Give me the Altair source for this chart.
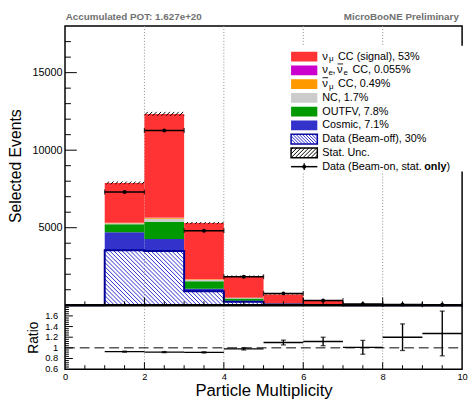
import math
import altair as alt
import pandas as pd

# ---------------- data ----------------
bin_lo = [0, 1, 2, 3, 4, 5, 6, 7, 8, 9]
bin_hi = [1, 2, 3, 4, 5, 6, 7, 8, 9, 10]

beam_off = [0, 3550, 3500, 900, 230, 50, 15, 5, 3, 2]
cosmic = [0, 1150, 780, 170, 60, 15, 5, 2, 1, 1]
outfv = [0, 520, 1100, 470, 150, 40, 12, 4, 2, 1]
nc = [0, 75, 200, 110, 40, 15, 5, 2, 1, 0]
numubar_cc = [0, 30, 70, 25, 10, 3, 2, 1, 0, 0]
nue_cc = [0, 3, 5, 3, 1, 0, 0, 0, 0, 0]
signal = [0, 2562, 6685, 3622, 1389, 573, 233, 66, 38, 20]
stat_unc = [0, 90, 130, 70, 40, 20, 12, 6, 5, 4]

data_bins = [1, 2, 3, 4, 5, 6, 7, 8, 9]
data_on = [7300, 11270, 4810, 1840, 765, 305, 81, 54, 30]
ratio = [0.928, 0.92, 0.915, 0.98, 1.10, 1.12, 1.01, 1.20, 1.27]
ratio_err = [0.01, 0.01, 0.012, 0.02, 0.045, 0.08, 0.13, 0.25, 0.42]

stack_names = ["Cosmic", "OUTFV", "NC", "numubar CC", "nue CC", "numu CC (signal)"]
stack_colors = ["#3333cc", "#009900", "#cccccc", "#ff9900", "#cc00cc", "#ff3333"]

legend_labels = ["CC (signal), 53%", "CC, 0.055%", "CC, 0.49%", "NC, 1.7%",
                 "OUTFV, 7.8%", "Cosmic, 7.1%", "Data (Beam-off), 30%",
                 "Stat. Unc.", "Data (Beam-on, stat. "]
legend_colors = ["#ff3333", "#cc00cc", "#ff9900", "#cccccc", "#009900", "#3333cc"]

y_major = [5000, 10000, 15000]
x_major = [0, 2, 4, 6, 8, 10]
r_major = [0.6, 0.8, 1.0, 1.2, 1.4, 1.6]
r_labels = ["0.6", "0.8", "1", "1.2", "1.4", "1.6"]
grid_x = [2, 4, 6, 8]

# ---------------- layout ----------------
W, H1, H2 = 404, 284, 65
H = H1 + H2
YMAX = 18000
SX = W / 10.0
SY = H1 / YMAX
FONT = "Liberation Sans"

xs = alt.Scale(domain=[0, 10], nice=False, zero=False)
ys = alt.Scale(domain=[0, YMAX], range=[H1, 0], nice=False, zero=False)
rs = alt.Scale(domain=[0.6, 1.8], range=[H, H1], nice=False, zero=False)

BLUE_HATCH = "#2b2bd0"
NAVY = "#000099"
GRID = "#8a8a8a"


def hatch(x0, x1, y0, y1, s, kind):
    """Hatch segments inside a rectangle given in pixel space (y up)."""
    segs = []
    if kind == "back":  # x + y = c  (looks like '\')
        c = math.ceil((x0 + y0) / s) * s
        while c < x1 + y1:
            lo = max(x0, c - y1)
            hi = min(x1, c - y0)
            if hi - lo > 1e-6:
                segs.append((lo, c - lo, hi, c - hi))
            c += s
    else:  # y - x = c  (looks like '/')
        c = math.ceil((y0 - x1) / s) * s
        while c < y1 - x0:
            lo = max(x0, y0 - c)
            hi = min(x1, y1 - c)
            if hi - lo > 1e-6:
                segs.append((lo, lo + c, hi, hi + c))
            c += s
    return segs


def X(f):
    return alt.X(f, scale=xs)


def Y(f, sc):
    return alt.Y(f, scale=sc, axis=None)


def PX(f):
    return alt.X(f, scale=None, axis=None)


def PY(f):
    return alt.Y(f, scale=None, axis=None)


# grid lines through both panels
grid = alt.Chart(pd.DataFrame({"g": grid_x})).mark_rule(
    color=GRID, strokeWidth=1, strokeDash=[1, 2]).encode(
    x=X("g:Q"), y=alt.value(0), y2=alt.value(H))

# ---------------- main panel ----------------
stack_rows = []
totals = []
for i in range(10):
    base = beam_off[i]
    for name, vals in zip(stack_names, [cosmic, outfv, nc, numubar_cc, nue_cc, signal]):
        if vals[i] > 0:
            stack_rows.append(dict(comp=name, lo=bin_lo[i], hi=bin_hi[i], y0=base, y1=base + vals[i]))
        base += vals[i]
    totals.append(base)
stack_df = pd.DataFrame(stack_rows)

bo_segs = []
for i in range(10):
    if beam_off[i] > 0:
        for (a, b, c, d) in hatch(bin_lo[i] * SX, bin_hi[i] * SX, 0, beam_off[i] * SY, 4.2, "back"):
            bo_segs.append(dict(x=a / SX, y=b / SY, x2=c / SX, y2=d / SY))
bo_hatch_df = pd.DataFrame(bo_segs)

st_segs = []
for i in range(10):
    if totals[i] > 0:
        for (a, b, c, d) in hatch(bin_lo[i] * SX, bin_hi[i] * SX,
                                  (totals[i] - stat_unc[i]) * SY, (totals[i] + stat_unc[i]) * SY, 4.5, "fwd"):
            st_segs.append(dict(x=a / SX, y=b / SY, x2=c / SX, y2=d / SY))
st_hatch_df = pd.DataFrame(st_segs)

bo_line_df = pd.DataFrame({"x": bin_lo + [bin_hi[-1]], "y": beam_off + [beam_off[-1]]})

data_df = pd.DataFrame({
    "lo": [bin_lo[b] for b in data_bins],
    "hi": [bin_hi[b] for b in data_bins],
    "c": [(bin_lo[b] + bin_hi[b]) / 2 for b in data_bins],
    "v": data_on,
})
cap_df = pd.DataFrame({"x": list(data_df["lo"]) + list(data_df["hi"]), "v": data_on + data_on})

Y_AX_MAIN = alt.Axis(values=y_major, format="d", grid=False, ticks=False, domain=False, orient="left",
                     labelFontSize=11, labelPadding=3, labelColor="black", labelFont=FONT,
                     title="Selected Events", titleFontSize=16, titleFontWeight="normal",
                     titleColor="black", titleFont=FONT, titleX=-45, titleBaseline="alphabetic")

bars = alt.Chart(stack_df).mark_rect().encode(
    x=X("lo:Q"),
    x2="hi:Q",
    y=alt.Y("y0:Q", scale=ys, axis=Y_AX_MAIN),
    y2="y1:Q",
    color=alt.Color("comp:N", scale=alt.Scale(domain=stack_names, range=stack_colors), legend=None),
)

bo_hatch = alt.Chart(bo_hatch_df).mark_rule(color=BLUE_HATCH, strokeWidth=1).encode(
    x=X("x:Q"), x2="x2:Q", y=Y("y:Q", ys), y2="y2:Q")

bo_line = alt.Chart(bo_line_df).mark_line(interpolate="step-after", color=NAVY, strokeWidth=2).encode(
    x=X("x:Q"), y=Y("y:Q", ys))

st_hatch = alt.Chart(st_hatch_df).mark_rule(color="black", strokeWidth=1).encode(
    x=X("x:Q"), x2="x2:Q", y=Y("y:Q", ys), y2="y2:Q")

d_rule = alt.Chart(data_df).mark_rule(color="black", strokeWidth=1.5).encode(
    x=X("lo:Q"), x2="hi:Q", y=Y("v:Q", ys))
d_caps = alt.Chart(cap_df).mark_tick(orient="vertical", size=5, thickness=1.3, color="black").encode(
    x=X("x:Q"), y=Y("v:Q", ys))
d_pts = alt.Chart(data_df).mark_point(filled=True, shape="circle", size=16, color="black", opacity=1).encode(
    x=X("c:Q"), y=Y("v:Q", ys))

# inward ticks
y_minor = [v for v in range(1000, YMAX, 1000) if v not in y_major]
x_minor = [k / 2 for k in range(1, 20) if k % 4 != 0]
x_major_in = [2, 4, 6, 8]


def rule_y(vals, scale, length):
    return alt.Chart(pd.DataFrame({"v": vals})).mark_rule(color="black", strokeWidth=1).encode(
        y=Y("v:Q", scale), x=alt.value(0), x2=alt.value(length))


def rule_x(vals, h, length):
    return alt.Chart(pd.DataFrame({"v": vals})).mark_rule(color="black", strokeWidth=1).encode(
        x=X("v:Q"), y=alt.value(h), y2=alt.value(h - length))


ticks_main = [rule_y(y_major, ys, 12), rule_y(y_minor, ys, 6),
              rule_x(x_major_in, H1, 8), rule_x(x_minor, H1, 4)]

# ---------------- legend (pixel coordinates) ----------------
row_y = [31 + 14 * i for i in range(9)]
SW0, SW1 = 230, 256.7
TX = 261.7

leg_bg = alt.Chart(pd.DataFrame({"a": [0]})).mark_rect(color="white").encode(
    x=alt.value(224), x2=alt.value(405), y=alt.value(20), y2=alt.value(148))

sw_df = pd.DataFrame({"x": [SW0] * 6, "x2": [SW1] * 6,
                      "y": [row_y[i] - 5 for i in range(6)], "y2": [row_y[i] + 5 for i in range(6)],
                      "c": legend_colors})
leg_sw = alt.Chart(sw_df).mark_rect().encode(
    x=PX("x:Q"), x2="x2:Q", y=PY("y:Q"), y2="y2:Q", fill=alt.Fill("c:N", scale=None))

ol_df = pd.DataFrame({"x": [SW0, SW0], "x2": [SW1, SW1],
                      "y": [row_y[6] - 5, row_y[7] - 5], "y2": [row_y[6] + 5, row_y[7] + 5],
                      "c": [NAVY, "black"]})
leg_ol = alt.Chart(ol_df).mark_rect(fill="white", strokeWidth=1.5).encode(
    x=PX("x:Q"), x2="x2:Q", y=PY("y:Q"), y2="y2:Q", stroke=alt.Stroke("c:N", scale=None))

lines = []
for (a, b, c, d) in hatch(SW0, SW1, -(row_y[6] + 5), -(row_y[6] - 5), 3.2, "back"):
    lines.append(dict(x=a, y=-b, x2=c, y2=-d, c=BLUE_HATCH, w=1))
for (a, b, c, d) in hatch(SW0, SW1, -(row_y[7] + 5), -(row_y[7] - 5), 4.0, "fwd"):
    lines.append(dict(x=a, y=-b, x2=c, y2=-d, c="black", w=1))
mid = (SW0 + SW1) / 2
lines.append(dict(x=SW0, y=row_y[8], x2=SW1, y2=row_y[8], c="black", w=1.5))
lines.append(dict(x=mid, y=row_y[8] - 3.5, x2=mid, y2=row_y[8] + 3.5, c="black", w=1.3))
lines.append(dict(x=277.3, y=row_y[1] - 6.5, x2=283.0, y2=row_y[1] - 6.5, c="black", w=0.9))
lines.append(dict(x=262.0, y=row_y[2] - 6.5, x2=267.7, y2=row_y[2] - 6.5, c="black", w=0.9))
lines_df = pd.DataFrame(lines)
leg_lines = alt.Chart(lines_df).mark_rule().encode(
    x=PX("x:Q"), x2="x2:Q", y=PY("y:Q"), y2="y2:Q",
    color=alt.Color("c:N", scale=None), strokeWidth=alt.StrokeWidth("w:Q", scale=None))

leg_dot = alt.Chart(pd.DataFrame({"x": [mid], "y": [row_y[8]]})).mark_point(
    filled=True, shape="circle", size=16, color="black", opacity=1).encode(x=PX("x:Q"), y=PY("y:Q"))

txt = [
    (TX, row_y[0], "\u03bd", 11.5), (268.6, row_y[0] + 3, "\u03bc", 8), (277.8, row_y[0], legend_labels[0], 11),
    (TX, row_y[1], "\u03bd", 11.5), (268.2, row_y[1] + 3, "e", 8), (272.2, row_y[1], ",", 11),
    (276.8, row_y[1], "\u03bd", 11.5), (283.3, row_y[1] + 3, "e", 8), (292.4, row_y[1], legend_labels[1], 11),
    (TX, row_y[2], "\u03bd", 11.5), (268.6, row_y[2] + 3, "\u03bc", 8), (277.8, row_y[2], legend_labels[2], 11),
]
for k in range(3, 9):
    txt.append((TX, row_y[k], legend_labels[k], 11))
txt_df = pd.DataFrame(txt, columns=["x", "y", "t", "fs"])
leg_txt = alt.Chart(txt_df).mark_text(align="left", baseline="middle", color="black", font=FONT).encode(
    x=PX("x:Q"), y=PY("y:Q"), text="t:N", size=alt.Size("fs:Q", scale=None))

leg_bold = alt.Chart(pd.DataFrame({"x": [365.5], "y": [row_y[8]], "t": ["only"]})).mark_text(
    align="left", baseline="middle", color="black", font=FONT, fontSize=11, fontWeight="bold").encode(
    x=PX("x:Q"), y=PY("y:Q"), text="t:N")
leg_close = alt.Chart(pd.DataFrame({"x": [388.0], "y": [row_y[8]], "t": [")"]})).mark_text(
    align="left", baseline="middle", color="black", font=FONT, fontSize=11).encode(
    x=PX("x:Q"), y=PY("y:Q"), text="t:N")

pot = alt.Chart(pd.DataFrame({"t": ["Accumulated POT: 1.627e+20"]})).mark_text(
    align="left", baseline="alphabetic", fontSize=10, fontWeight="bold", color="#707070", font=FONT).encode(
    text="t:N", x=alt.value(0.7), y=alt.value(-6.5))
prelim = alt.Chart(pd.DataFrame({"t": ["MicroBooNE Preliminary"]})).mark_text(
    align="right", baseline="alphabetic", fontSize=10, fontWeight="bold", color="#707070", font=FONT).encode(
    text="t:N", x=alt.value(400.7), y=alt.value(-6.5))

# ---------------- ratio panel (lower band of the same view) ----------------
ratio_df = pd.DataFrame({
    "lo": [bin_lo[b] for b in data_bins],
    "hi": [bin_hi[b] for b in data_bins],
    "c": [(bin_lo[b] + bin_hi[b]) / 2 for b in data_bins],
    "r": ratio,
    "rlo": [r - e for r, e in zip(ratio, ratio_err)],
    "rhi": [r + e for r, e in zip(ratio, ratio_err)],
})
rcap_df = pd.DataFrame({"c": list(ratio_df["c"]) * 2, "v": list(ratio_df["rlo"]) + list(ratio_df["rhi"])})

X_AX_R = alt.Axis(values=x_major, format="d", grid=False, ticks=False, domain=False,
                  labelFontSize=9.5, labelPadding=3, labelFlush=False, labelOverlap=False,
                  labelColor="black", labelFont=FONT,
                  title="Particle Multiplicity", titleFontSize=17, titleFontWeight="normal",
                  titleColor="black", titleFont=FONT, titleY=27, titleBaseline="alphabetic")
Y_AX_R = alt.Axis(orient="left", values=r_major, labels=False, grid=False, ticks=False, domain=False,
                  title="Ratio", titleFontSize=14, titleFontWeight="normal", titleColor="black",
                  titleFont=FONT, titleX=-27.7, titleBaseline="alphabetic")

one_df = pd.DataFrame({"x0": [0], "x1": [10], "y": [1.0]})
r_one = alt.Chart(one_df).mark_rule(color="black", strokeWidth=1, strokeDash=[10, 5]).encode(
    x=alt.X("x0:Q", scale=xs, axis=X_AX_R), x2="x1:Q", y=alt.Y("y:Q", scale=rs, axis=Y_AX_R))
r_h = alt.Chart(ratio_df).mark_rule(color="black", strokeWidth=1.4).encode(
    x=X("lo:Q"), x2="hi:Q", y=Y("r:Q", rs))
r_v = alt.Chart(ratio_df).mark_rule(color="black", strokeWidth=1.4).encode(
    x=X("c:Q"), y=Y("rlo:Q", rs), y2="rhi:Q")
r_caps = alt.Chart(rcap_df).mark_tick(orient="horizontal", size=5, thickness=1.3, color="black").encode(
    x=X("c:Q"), y=Y("v:Q", rs))
r_lab = alt.Chart(pd.DataFrame({"v": r_major, "t": r_labels})).mark_text(
    align="right", baseline="middle", fontSize=9.5, color="black", font=FONT).encode(
    y=Y("v:Q", rs), x=alt.value(-7), text="t:N")

r_major_in = [0.8, 1.0, 1.2, 1.4, 1.6]
r_minor = [round(0.6 + 0.04 * k, 2) for k in range(1, 30) if k % 5 != 0]
ticks_r = [rule_y(r_major_in, rs, 8), rule_y(r_minor, rs, 4),
           rule_x(x_major_in, H, 7), rule_x(x_minor, H, 4)]

separator = alt.Chart(pd.DataFrame({"a": [0]})).mark_rule(color="black", strokeWidth=2.5).encode(
    x=alt.value(0), x2=alt.value(W), y=alt.value(H1))

chart = alt.layer(
    grid, bars, bo_hatch, bo_line, st_hatch, d_rule, d_caps, d_pts,
    leg_bg, leg_sw, leg_ol, leg_lines, leg_dot, leg_txt, leg_bold, leg_close,
    *ticks_main, pot, prelim,
    r_one, r_h, r_v, r_caps, r_lab, *ticks_r, separator,
).resolve_scale(y="independent").properties(width=W, height=H, padding=0).configure(
    font=FONT).configure_view(stroke="black", strokeWidth=1.5)

chart.save("out.html", embed_options={"renderer": "svg", "actions": False})
